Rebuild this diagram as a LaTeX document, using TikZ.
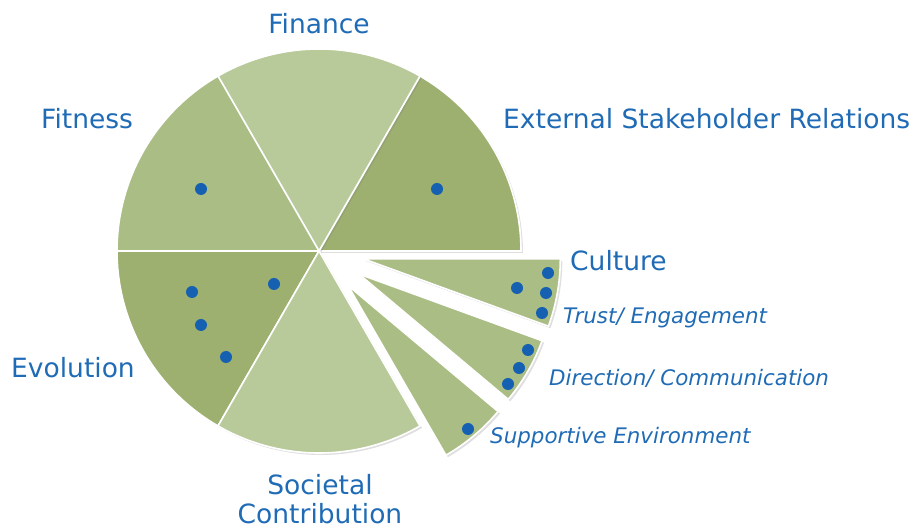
\documentclass[tikz,border=0pt]{standalone}
\usepackage{fontspec}
\setmainfont{DejaVu Sans}
\usetikzlibrary{positioning}
\usetikzlibrary{calc}
\usetikzlibrary{shadows}

\definecolor{slicelight}{HTML}{B8C99A}
\definecolor{slicemid}{HTML}{AABD85}
\definecolor{slicedark}{HTML}{9DB070}
\definecolor{labelblue}{HTML}{1F6BB5}
\definecolor{dotblue}{HTML}{1560B0}

\begin{document}
\begin{tikzpicture}[x=1pt, y=1pt,
                slicestyle/.style={draw=white, line width=1.6pt, line join=miter,
                    drop shadow={opacity=0.25, shadow xshift=2pt, shadow yshift=-2pt}},
                mainlabel/.style={text=labelblue, inner sep=0pt, font=\fontsize{26.5}{29}\selectfont},
                sublabel/.style={text=labelblue, inner sep=0pt, font=\fontsize{21.4}{24}\selectfont\itshape},
                marker/.style={circle, fill=dotblue, inner sep=0pt, minimum size=12pt},
                ]
                \useasboundingbox (0,0) rectangle (921,530);
                \coordinate (centre) at (319,279);

                % six sectors, culture one cut in three
                \filldraw[slicestyle, fill=slicedark] (centre) -- ++(0:202) arc[start angle=0, end angle=60, radius=202] -- cycle;
                \filldraw[slicestyle, fill=slicelight] (centre) -- ++(60:202) arc[start angle=60, end angle=120, radius=202] -- cycle;
                \filldraw[slicestyle, fill=slicemid] (centre) -- ++(120:202) arc[start angle=120, end angle=180, radius=202] -- cycle;
                \filldraw[slicestyle, fill=slicedark] (centre) -- ++(180:202) arc[start angle=180, end angle=240, radius=202] -- cycle;
                \filldraw[slicestyle, fill=slicelight] (centre) -- ++(240:202) arc[start angle=240, end angle=300, radius=202] -- cycle;

                \coordinate (trustapex) at ($(centre)+(-10:45)$);
                \coordinate (directionapex) at ($(centre)+(-30:46)$);
                \coordinate (supportapex) at ($(centre)+(-50:45)$);
                \filldraw[slicestyle, fill=slicemid] (trustapex) -- ++(-20:197) arc[start angle=-20, end angle=0, radius=197] -- cycle;
                \filldraw[slicestyle, fill=slicemid] (directionapex) -- ++(-40:195) arc[start angle=-40, end angle=-20, radius=195] -- cycle;
                \filldraw[slicestyle, fill=slicemid] (supportapex) -- ++(-60:196) arc[start angle=-60, end angle=-40, radius=196] -- cycle;

                % markers
                \foreach \px/\py in {201/341, 437/341, 192/238, 274/246, 201/205, 226/173,
                                     548/257, 517/242, 546/237, 542/217,
                                     528/180, 519/162, 508/146, 468/101}
                    \node[marker] at (\px,\py) {};

                % labels
                \node[mainlabel] (finance) at (319,506) {Finance};
                \node[mainlabel, anchor=west] (fitness) at (41,411) {Fitness};
                \node[mainlabel, anchor=west] (external) at (503,411) {External Stakeholder Relations};
                \node[mainlabel, anchor=west] (culture) at (570,269) {Culture};
                \node[sublabel, anchor=west] (trust) at (563,212) {Trust/ Engagement};
                \node[sublabel, anchor=west] (direction) at (549,152) {Direction/ Communication};
                \node[sublabel, anchor=west] (support) at (490,92) {Supportive Environment};
                \node[mainlabel, anchor=west] (evolution) at (11,162) {Evolution};
                \node[mainlabel, align=center] (societal) at (320,31) {Societal\\Contribution};
            \end{tikzpicture}
\end{document}
